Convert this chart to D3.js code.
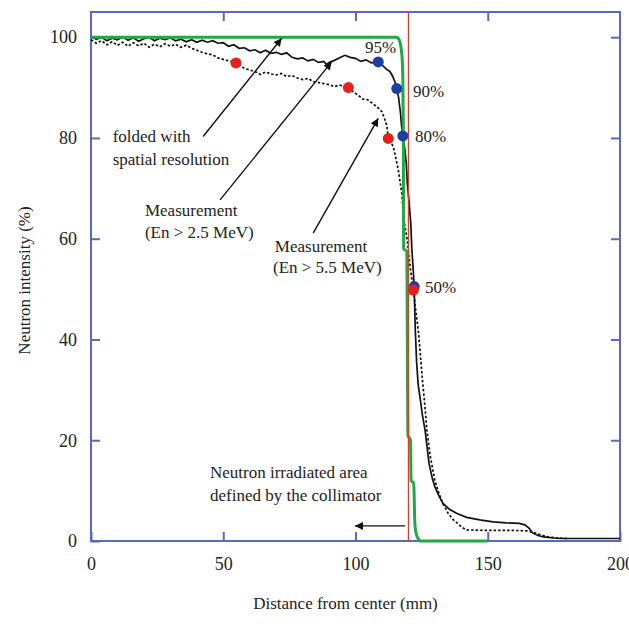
<!DOCTYPE html>
<html>
<head>
<meta charset="utf-8">
<script src="https://cdn.jsdelivr.net/npm/d3@7"></script>
<style>
  body { margin: 0; background: #fff; }
  svg { display: block; font-family: "Liberation Serif", "DejaVu Serif", serif; }
</style>
</head>
<body>
<svg width="629" height="633"></svg>
<script>
// calculated profile (folded with spatial resolution)
const foldedX = [0, 115.5, 116.5, 117.2, 117.6, 117.9, 118.1, 118.2, 119.4, 119.6, 119.8, 120.8, 121, 122, 122.5, 123.2, 124.4, 150]
const foldedY = [100, 100, 99.5, 98, 96, 92, 80, 58, 57.5, 40, 21, 20, 12, 11.5, 3, 1, 0, 0]

// measurement En > 2.5 MeV (solid)
const solidX = [0, 2, 4, 6, 8, 10, 12, 14, 16, 18, 20, 22, 24, 26, 28, 30, 32, 34, 36, 38, 40, 42, 44, 46, 48, 50,
  52, 54, 56, 58, 60, 62, 64, 66, 68, 70, 72, 74, 76, 78, 80, 82, 84, 86, 88, 89, 90, 92, 94, 96, 98, 100,
  102, 104, 106, 108, 109, 110, 111, 112, 113, 114, 115, 115.6, 116.3, 117, 117.4, 117.9, 118.6, 119.2, 119.6,
  120.3, 120.9, 121.3, 121.8, 122.2, 122.4, 122.6, 123.1, 123.7, 124.4, 125.3, 126.3, 127.8, 129, 130, 131.5,
  133, 135.5, 138.2, 142, 147, 152, 157, 162, 164, 165.5, 167, 169, 171, 175, 178, 190, 200]
const solidY = [100.2, 99.6, 100, 99.3, 99.8, 99.5, 100.1, 99.4, 99.9, 99.2, 99.7, 100, 99.3, 99.8, 99.5, 99.9, 99.3, 99.6, 99.1, 99.5, 99, 99.4, 99, 99.3, 98.8, 98.9,
  98.2, 98.5, 97.8, 97.9, 97.3, 97.5, 96.9, 97.4, 96.8, 97, 96.6, 96.9, 96, 95.7, 95.9, 95.3, 95.6, 95, 95.2, 94.6, 95, 95.4, 95.9, 96.4, 96, 95.8,
  95.2, 95.5, 94.9, 95.1, 94.8, 94.5, 94, 93.5, 93.2, 92.3, 91, 89.8, 88, 85, 82.5, 80.4, 78, 75, 71,
  67, 63, 58, 54, 50.3, 46, 42, 35.5, 31, 28.5, 25, 22, 15.4, 12.5, 10.8, 9,
  7.5, 6.3, 5.5, 4.7, 4.2, 3.8, 3.6, 3.5, 3.2, 2.6, 1.6, 1.1, 0.8, 0.6, 0.5, 0.5, 0.5]

// measurement En > 5.5 MeV (dotted)
const dottedX = [0, 2, 4, 6, 8, 10, 12, 14, 16, 18, 20, 22, 24, 26, 28, 30, 32, 34, 36, 38, 40, 42, 44, 46, 48, 50,
  52, 54.8, 56, 58, 60, 62.8, 64, 66, 68, 70, 72, 74, 76, 78, 80, 82, 84, 86, 88, 90, 92, 94, 96, 97.3, 99, 101,
  102.8, 104.5, 106.6, 108.5, 110, 111.2, 111.9, 112.4, 113.5, 114.3, 116.2, 117.5, 118.3, 119.5, 120.3, 121, 121.9,
  122.5, 123.2, 123.8, 124.5, 125.3, 126.2, 127, 128.2, 130, 131.5, 133, 135, 137, 138.4, 140, 142, 150, 160, 165,
  168, 170, 173, 176, 180]
const dottedY = [99.5, 98.8, 99.3, 98.5, 99.1, 98.4, 99, 98.2, 98.9, 98.3, 98.8, 98, 98.6, 98.1, 98.7, 98.2, 98.6, 98, 98.4, 97.8, 97.4, 97, 96.7, 96.5, 95.9, 95.6,
  95.3, 94.9, 94.6, 93.8, 93.5, 93, 92.6, 93.1, 92.7, 92.5, 92.8, 92.2, 92.4, 91.9, 91.6, 91.8, 91.2, 91, 90.8, 90.6, 90.2, 90.5, 90.1, 90, 89.2, 88.5,
  87.7, 87.6, 86.8, 86, 85.2, 83.5, 82.3, 79.9, 79, 78.3, 73.6, 69, 63.7, 60, 56, 53, 49.8,
  47, 44, 41.5, 37, 32, 27, 22, 17, 12, 9.5, 7.5, 5.5, 4.2, 3.6, 2.8, 2.2, 2.1, 2.1, 2,
  1.6, 1.2, 0.8, 0.6, 0.5]

// marked points
const blueX = [108.6, 115.6, 117.9, 122.2]
const blueY = [95.1, 89.8, 80.4, 50.5]
const redX = [54.8, 97.3, 112.4, 121.9]
const redY = [94.9, 90, 79.9, 49.8]
const pctLabels = ["95%", "90%", "80%", "50%"]
const pctLabelX = [103.6, 121.7, 122.5, 126.3]
const pctLabelY = [96.9, 88.1, 79.2, 49.2]

const collimatorEdge = 120
const xTicks = [0, 50, 100, 150, 200]
const yTicks = [0, 20, 40, 60, 80, 100]

// annotation text lines: [text, x mm, y %]
const notes = [
  ["folded with", 8.2, 79.2],
  ["spatial resolution", 8.2, 74.6],
  ["Measurement", 20.4, 64.6],
  ["(En > 2.5 MeV)", 20.4, 60.1],
  ["Measurement", 69.5, 57.4],
  ["(En > 5.5 MeV)", 68.8, 53.2],
  ["Neutron irradiated area", 45, 12.5],
  ["defined by the collimator", 45, 7.9]
]
// arrows: [x1, y1, x2, y2] in data units, head at (x2, y2)
const arrows = [
  [42.4, 80.3, 72.1, 99.8],
  [48.8, 67.7, 91, 95.1],
  [84, 61.1, 108.6, 83.9],
  [118.7, 3.0, 99.8, 3.0]
]

const svg = d3.select("svg")
const mLeft = 91, mRight = 620, mTop = 12, mBottom = 541
const frameColor = "#5b68bd"

const x = d3.scaleLinear().domain([0, 200]).range([mLeft, mRight])
const y = d3.scaleLinear().domain([0, 105]).range([mBottom, mTop])

svg.append("defs").append("marker")
    .attr("id", "head")
    .attr("viewBox", "0 0 10 10")
    .attr("refX", 10).attr("refY", 5)
    .attr("markerWidth", 11).attr("markerHeight", 8)
    .attr("markerUnits", "userSpaceOnUse")
    .attr("orient", "auto")
  .append("path")
    .attr("d", "M0,0 L10,5 L0,10 z")
    .attr("fill", "#111")

// axes, ticks point inward
const styleAxis = g => {
    g.select(".domain").remove()
    g.selectAll(".tick line").attr("stroke", frameColor).attr("stroke-width", 2)
    g.selectAll(".tick text").attr("fill", "#222").style("font-size", "18px")
        .style("font-family", "Liberation Serif, serif")
}
svg.append("g").attr("transform", `translate(0,${mBottom})`)
    .call(d3.axisBottom(x).tickValues(xTicks).tickSizeInner(-9).tickSizeOuter(0).tickPadding(16))
    .call(styleAxis)
svg.append("g").attr("transform", `translate(0,${mTop})`)
    .call(d3.axisTop(x).tickValues([50, 100, 150]).tickSizeInner(-9).tickSizeOuter(0).tickFormat(""))
    .call(styleAxis)
svg.append("g").attr("transform", `translate(${mLeft},0)`)
    .call(d3.axisLeft(y).tickValues(yTicks).tickSizeInner(-9).tickSizeOuter(0).tickPadding(14))
    .call(styleAxis)
svg.append("g").attr("transform", `translate(${mRight},0)`)
    .call(d3.axisRight(y).tickValues([20, 40, 60, 80, 100]).tickSizeInner(-9).tickSizeOuter(0).tickFormat(""))
    .call(styleAxis)

svg.append("rect")
    .attr("x", mLeft).attr("y", mTop)
    .attr("width", mRight - mLeft).attr("height", mBottom - mTop)
    .attr("fill", "none").attr("stroke", frameColor).attr("stroke-width", 2)

const line = d3.line().x(d => x(d[0])).y(d => y(d[1]))

svg.append("path")
    .datum(d3.zip(solidX, solidY))
    .attr("d", line)
    .attr("fill", "none").attr("stroke", "#111").attr("stroke-width", 1.7)

svg.append("path")
    .datum(d3.zip(dottedX, dottedY))
    .attr("d", line)
    .attr("fill", "none").attr("stroke", "#111").attr("stroke-width", 1.7)
    .attr("stroke-dasharray", "2.5,2")

svg.append("path")
    .datum(d3.zip(foldedX, foldedY))
    .attr("d", d3.line().x(d => x(d[0])).y(d => y(d[1])).curve(d3.curveMonotoneY))
    .attr("fill", "none").attr("stroke", "#1faa45").attr("stroke-width", 3)

svg.append("line")
    .attr("x1", x(collimatorEdge)).attr("x2", x(collimatorEdge))
    .attr("y1", mTop).attr("y2", mBottom)
    .attr("stroke", "#ee3322").attr("stroke-width", 1.2)

svg.selectAll(".blue").data(d3.zip(blueX, blueY)).enter()
    .append("circle").attr("class", "blue")
    .attr("cx", d => x(d[0])).attr("cy", d => y(d[1])).attr("r", 5.5)
    .attr("fill", "#1c3fa6")
svg.selectAll(".red").data(d3.zip(redX, redY)).enter()
    .append("circle").attr("class", "red")
    .attr("cx", d => x(d[0])).attr("cy", d => y(d[1])).attr("r", 5.5)
    .attr("fill", "#e3221c")

svg.selectAll(".pct").data(d3.zip(pctLabels, pctLabelX, pctLabelY)).enter()
    .append("text").attr("class", "pct")
    .attr("x", d => x(d[1])).attr("y", d => y(d[2]))
    .style("font-size", "17px").attr("fill", "#222")
    .text(d => d[0])

svg.selectAll(".note").data(notes).enter()
    .append("text").attr("class", "note")
    .attr("x", d => x(d[1])).attr("y", d => y(d[2]))
    .style("font-size", "17px").attr("fill", "#222")
    .text(d => d[0])

svg.selectAll(".arrow").data(arrows).enter()
    .append("line").attr("class", "arrow")
    .attr("x1", d => x(d[0])).attr("y1", d => y(d[1]))
    .attr("x2", d => x(d[2])).attr("y2", d => y(d[3]))
    .attr("stroke", "#111").attr("stroke-width", 1.4)
    .attr("marker-end", "url(#head)")

svg.append("text")
    .attr("x", (mLeft + mRight) / 2 - 10).attr("y", 609)
    .attr("text-anchor", "middle")
    .style("font-size", "17px").attr("fill", "#222")
    .text("Distance from center (mm)")

svg.append("text")
    .attr("transform", `translate(30,${(mTop + mBottom) / 2 + 4}) rotate(-90)`)
    .attr("text-anchor", "middle")
    .style("font-size", "17px").attr("fill", "#222")
    .text("Neutron intensity (%)")
</script>
</body>
</html>
